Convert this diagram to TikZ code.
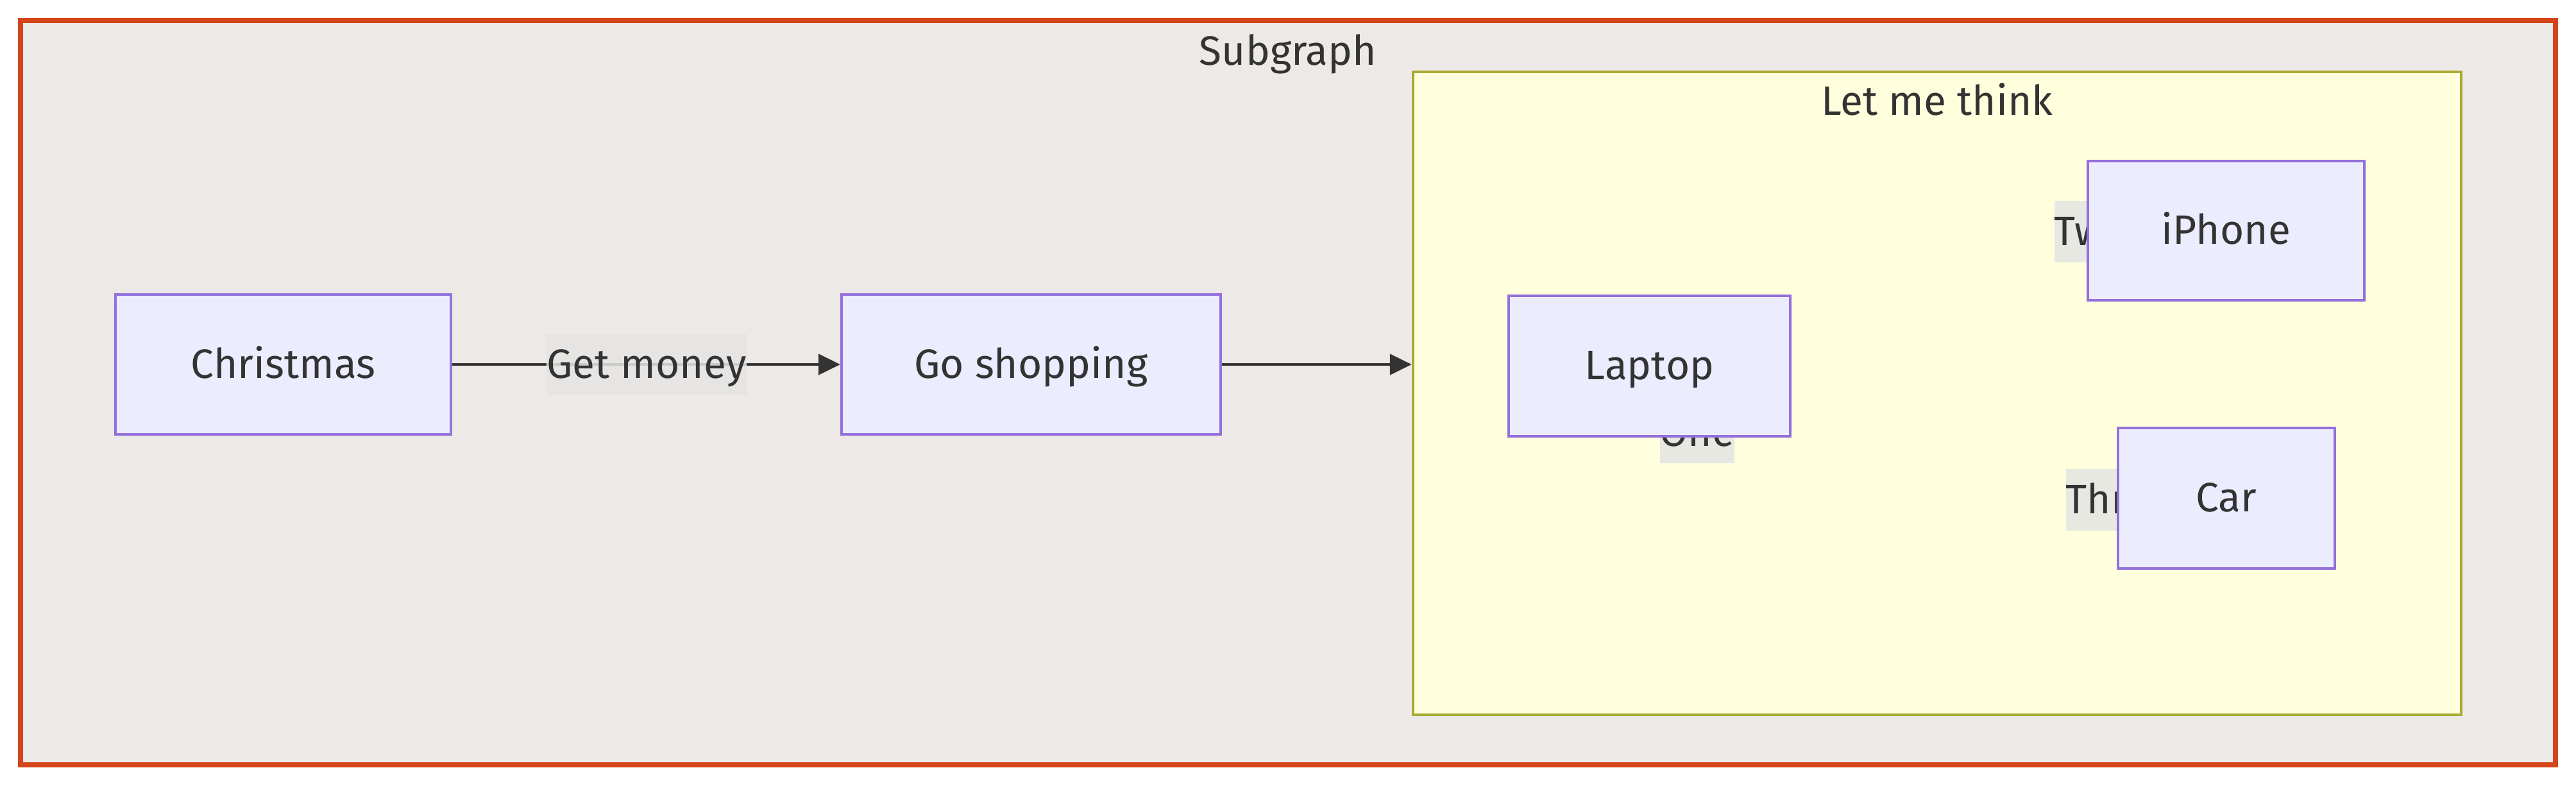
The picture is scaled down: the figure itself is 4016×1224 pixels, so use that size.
\documentclass[tikz,border=0pt]{standalone}
\usepackage{fontspec}
\setmainfont{Fira Sans}
\usetikzlibrary{arrows.meta}
\definecolor{txt}{HTML}{333333}
\definecolor{nodefill}{HTML}{ECECFF}
\definecolor{nodestroke}{HTML}{9370DB}
\definecolor{outerfill}{HTML}{ECE9E6}
\definecolor{outerstroke}{HTML}{D4451A}
\definecolor{innerfill}{HTML}{FFFFDE}
\definecolor{innerstroke}{HTML}{AAAA33}
\definecolor{lblfill}{HTML}{E5E5E3}
\tikzset{
  x=0.25pt, y=-0.25pt,
  every node/.style={font=\fontsize{16pt}{19pt}\selectfont, text=txt, text height=12.5pt, text depth=2pt},
  flownode/.style={draw=nodestroke, fill=nodefill, line width=1pt, inner sep=0pt},
  edgelbl/.style={fill=lblfill, fill opacity=0.85, text opacity=1, inner xsep=0pt, inner ysep=0pt, minimum height=24pt},
  conn/.style={draw=txt, line width=1.2pt, -{Triangle[length=8.5pt,width=8pt]}},
}
\begin{document}
\begin{tikzpicture}
\fill[white] (0,0) rectangle (4016,1224);
\useasboundingbox (0,0) rectangle (4016,1224);
% outer subgraph
\node[draw=outerstroke, fill=outerfill, line width=2pt, minimum width=988pt, minimum height=290pt, inner sep=0pt, text height=, text depth=] (subgraph) at (2008,612) {};
\node (subtitle) at (2008,80) {Subgraph};
% inner subgraph
\node[draw=innerstroke, fill=innerfill, line width=1.1pt, minimum width=408.5pt, minimum height=250.5pt, inner sep=0pt, text height=, text depth=] (think) at (3020,613) {};
\node (thinktitle) at (3020,158) {Let me think};
% edge labels inside (drawn under nodes)
\node[edgelbl] (lone) at (2646,674) {One};
\node[edgelbl, anchor=west] (ltwo) at (3202,361) {Two};
\node[edgelbl, anchor=west] (lthree) at (3220,779) {Three};
% nodes
\node[flownode, minimum width=130.75pt, minimum height=54.5pt] (christmas) at (441.5,568) {Christmas};
\node[flownode, minimum width=147.75pt, minimum height=54.5pt] (shopping) at (1607.5,568) {Go shopping};
\node[flownode, minimum width=109.75pt, minimum height=54.75pt] (laptop) at (2571.5,570.5) {Laptop};
\node[flownode, minimum width=107.75pt, minimum height=54.25pt] (iphone) at (3470.5,359.5) {iPhone};
\node[flownode, minimum width=84.5pt, minimum height=54.75pt] (car) at (3471,776.5) {Car};
% connectors
\draw[conn] (christmas.east) -- (shopping.west);
\node[edgelbl] (getmoney) at (1008,568) {Get money};
\draw[conn] (shopping.east) -- (think.west |- shopping.east);
\end{tikzpicture}
\end{document}
